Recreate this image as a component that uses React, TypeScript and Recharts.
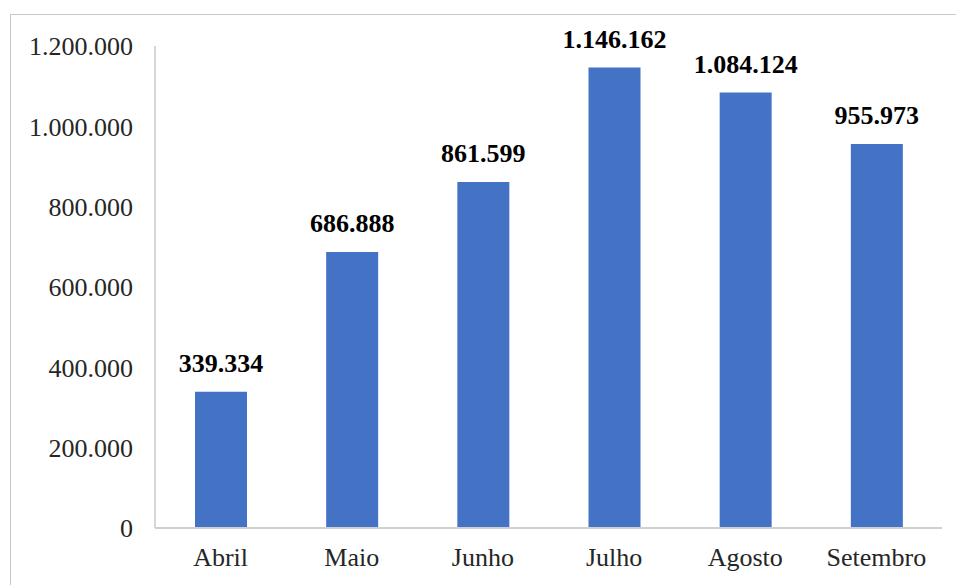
import React from 'react';
import { BarChart, Bar, XAxis, YAxis, LabelList } from 'recharts';

const months = ['Abril', 'Maio', 'Junho', 'Julho', 'Agosto', 'Setembro'];
const values = [339334, 686888, 861599, 1146162, 1084124, 955973];
const yTicks = [0, 200000, 400000, 600000, 800000, 1000000, 1200000];

const data = months.map((m, i) => ({ month: m, value: values[i] }));

const fmt = (v: number) => String(Math.round(v)).replace(/\B(?=(\d{3})+(?!\d))/g, '.');

const FONT = '"Liberation Serif", "Times New Roman", serif';

export default function App() {
  return (
    <div style={{ position: 'fixed', left: 0, top: 0, width: 956, height: 585, background: '#fff', overflow: 'hidden' }}>
      <div
        style={{
          position: 'absolute',
          left: 10,
          top: 14,
          width: 1000,
          height: 600,
          borderLeft: '1.5px solid #c8c8c8',
          borderTop: '1.5px solid #c8c8c8',
          boxSizing: 'border-box',
        }}
      />
      <div style={{ position: 'absolute', left: 0, top: 0 }}>
        <BarChart
          width={956}
          height={585}
          data={data}
          margin={{ top: 46, right: 14, bottom: 0, left: 0 }}
        >
          <YAxis
            width={155}
            domain={[0, 1200000]}
            ticks={yTicks}
            tickFormatter={fmt}
            axisLine={{ stroke: '#c8c8c8', strokeWidth: 1.5 }}
            tickLine={false}
            tickSize={0}
            tickMargin={22}
            tick={{ fontFamily: FONT, fontSize: 26, fill: '#262626' }}
          />
          <XAxis
            dataKey="month"
            height={57}
            axisLine={{ stroke: '#d0d0d0', strokeWidth: 2 }}
            tickLine={false}
            tickSize={0}
            tickMargin={20}
            interval={0}
            tick={{ fontFamily: FONT, fontSize: 26, fill: '#262626' }}
          />
          <Bar dataKey="value" fill="#4472C4" barSize={52} isAnimationActive={false}>
            <LabelList
              dataKey="value"
              position="top"
              offset={20}
              formatter={(v: any) => fmt(Number(v))}
              style={{ fontFamily: FONT, fontSize: 26, fontWeight: 'bold', fill: '#000' }}
            />
          </Bar>
        </BarChart>
      </div>
    </div>
  );
}
